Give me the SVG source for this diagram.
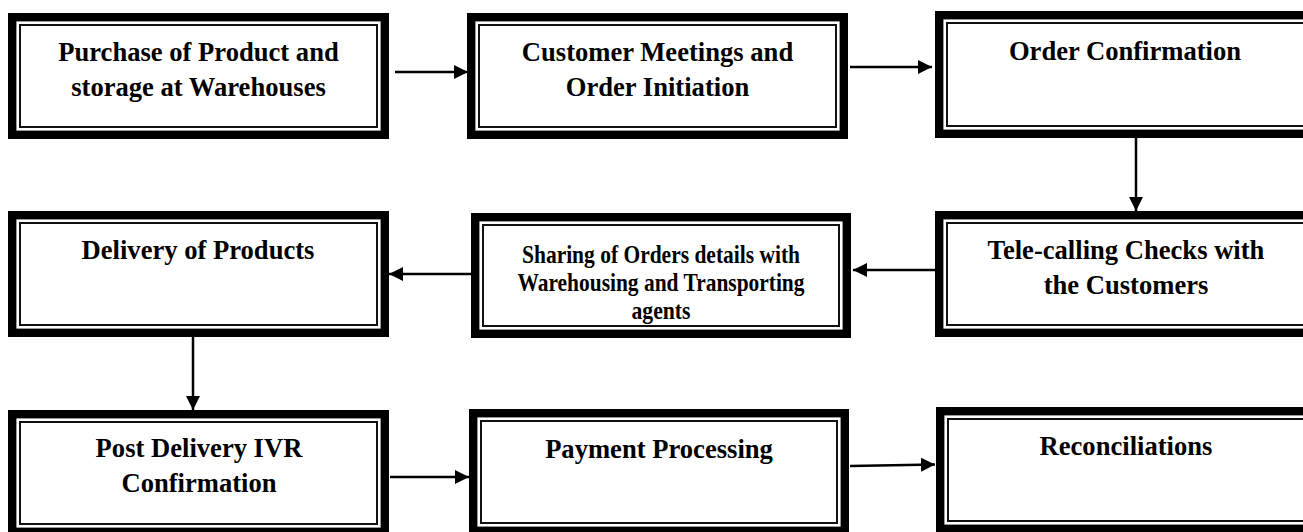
<svg xmlns="http://www.w3.org/2000/svg" width="1303" height="532" viewBox="0 0 1303 532">
<style>
.outer{fill:#fff;stroke:#000;stroke-width:8.4}
.inner{fill:none;stroke:#111;stroke-width:2}
.t{font-family:"Liberation Serif","Times New Roman",serif;font-weight:bold;font-size:26.6px;fill:#000;text-anchor:middle}
.ts{font-family:"Liberation Serif","Times New Roman",serif;font-weight:bold;font-size:25px;fill:#000;text-anchor:middle}
.c{stroke:#000;stroke-width:2.5;fill:none;marker-end:url(#ah)}
</style>
<defs>
<marker id="ah" markerUnits="userSpaceOnUse" markerWidth="15" markerHeight="15" refX="14" refY="7" orient="auto" viewBox="0 0 15 15">
<path d="M0,0 L14,7 L0,14 z" fill="#000"/>
</marker>
</defs>
<rect width="1303" height="532" fill="#fff"/>
<g id="connectors">
<line class="c" x1="395" y1="72" x2="468" y2="72"/>
<line class="c" x1="850" y1="67" x2="932" y2="67"/>
<line class="c" x1="1136" y1="138" x2="1136" y2="211"/>
<line class="c" x1="935" y1="270" x2="853" y2="270"/>
<line class="c" x1="471" y1="274" x2="389" y2="274"/>
<line class="c" x1="193" y1="337" x2="193" y2="410"/>
<line class="c" x1="390" y1="477" x2="469" y2="477"/>
<line class="c" x1="850" y1="466" x2="935" y2="464.5"/>
</g>
<g id="node1">
<rect class="outer" x="12.2" y="17.2" width="372.6" height="117.6"/>
<rect class="inner" x="20" y="25" width="357" height="102"/>
<text class="t" x="198.5" y="61">Purchase of Product and</text>
<text class="t" x="198.5" y="96">storage at Warehouses</text>
</g>
<g id="node2">
<rect class="outer" x="471.2" y="17.2" width="372.6" height="117.6"/>
<rect class="inner" x="479" y="25" width="357" height="102"/>
<text class="t" x="657.5" y="61">Customer Meetings and</text>
<text class="t" x="657.5" y="96">Order Initiation</text>
</g>
<g id="node3">
<rect class="outer" x="939.2" y="15.2" width="372.6" height="118.6"/>
<rect class="inner" x="947" y="23" width="357" height="103"/>
<text class="t" x="1125" y="59.5">Order Confirmation</text>
</g>
<g id="node4">
<rect class="outer" x="12.2" y="215.2" width="372.6" height="117.6"/>
<rect class="inner" x="20" y="223" width="357" height="102"/>
<text class="t" x="198" y="259">Delivery of Products</text>
</g>
<g id="node5">
<rect class="outer" x="475.2" y="217.2" width="371.6" height="116.6"/>
<rect class="inner" x="483" y="225" width="356" height="101"/>
<text class="ts" x="661" y="263" textLength="278" lengthAdjust="spacingAndGlyphs">Sharing of Orders details with</text>
<text class="ts" x="661" y="291" textLength="287" lengthAdjust="spacingAndGlyphs">Warehousing and Transporting</text>
<text class="ts" x="661" y="318.5" textLength="59" lengthAdjust="spacingAndGlyphs">agents</text>
</g>
<g id="node6">
<rect class="outer" x="939.2" y="215.2" width="372.6" height="117.6"/>
<rect class="inner" x="947" y="223" width="357" height="102"/>
<text class="t" x="1126" y="259">Tele-calling Checks with</text>
<text class="t" x="1126" y="294">the Customers</text>
</g>
<g id="node7">
<rect class="outer" x="12.2" y="414.2" width="372.6" height="117.6"/>
<rect class="inner" x="20" y="422" width="357" height="102"/>
<text class="t" x="199" y="457">Post Delivery IVR</text>
<text class="t" x="199" y="492">Confirmation</text>
</g>
<g id="node8">
<rect class="outer" x="473.2" y="413.2" width="371.6" height="117.6"/>
<rect class="inner" x="481" y="421" width="356" height="102"/>
<text class="t" x="659" y="458">Payment Processing</text>
</g>
<g id="node9">
<rect class="outer" x="940.2" y="411.2" width="372.6" height="117.6"/>
<rect class="inner" x="948" y="419" width="357" height="102"/>
<text class="t" x="1126" y="455">Reconciliations</text>
</g>
</svg>
